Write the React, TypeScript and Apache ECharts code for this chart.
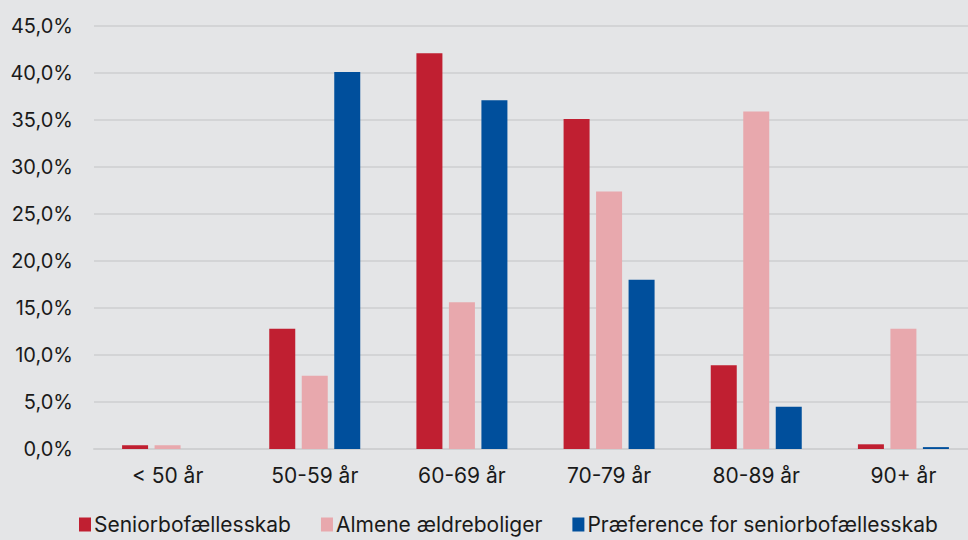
import React, { useEffect, useRef } from "react";
import * as echarts from "echarts";

const categories = ["< 50 år", "50-59 år", "60-69 år", "70-79 år", "80-89 år", "90+ år"];
const seniorbo = [0.4, 12.8, 42.1, 35.1, 8.9, 0.5];
const almene = [0.4, 7.8, 15.6, 27.4, 35.9, 12.8];
const praeference = [0, 40.1, 37.1, 18.0, 4.5, 0.2];

const FONT = "Inter, 'Noto Sans', sans-serif";

export default function App() {
  const ref = useRef<HTMLDivElement>(null);
  useEffect(() => {
    const chart = echarts.init(ref.current!, null, { renderer: "svg" });
    chart.setOption({
      animation: false,
      backgroundColor: "#e4e5e7",
      textStyle: { fontFamily: FONT },
      grid: { left: 94, right: 0, top: 26, bottom: 91 },
      legend: {
        bottom: 0,
        left: 74,
        itemWidth: 12,
        itemHeight: 14,
        itemGap: 30,
        icon: "rect",
        textStyle: { fontSize: 21, color: "#1a1a1a", fontFamily: FONT, padding: [0, 0, 0, -2] },
        data: ["Seniorbofællesskab", "Almene ældreboliger", "Præference for seniorbofællesskab"],
      },
      xAxis: {
        type: "category",
        data: categories,
        axisTick: { show: false },
        axisLine: { lineStyle: { color: "#cfd0d2", width: 2 } },
        axisLabel: { fontSize: 21, color: "#1a1a1a", margin: 16, fontFamily: FONT },
      },
      yAxis: {
        type: "value",
        min: 0,
        max: 45,
        interval: 5,
        axisLabel: {
          fontSize: 20,
          color: "#1a1a1a",
          margin: 21,
          fontFamily: FONT,
          formatter: (v: number) => v.toFixed(1).replace(".", ",") + "%",
        },
        splitLine: { lineStyle: { color: "#d3d4d6", width: 2 } },
      },
      series: [
        { name: "Seniorbofællesskab", type: "bar", data: seniorbo, barWidth: 26, barGap: "25%", itemStyle: { color: "#c01f31" } },
        { name: "Almene ældreboliger", type: "bar", data: almene, barWidth: 26, barGap: "25%", itemStyle: { color: "#e8a8ad" } },
        { name: "Præference for seniorbofællesskab", type: "bar", data: praeference, barWidth: 26, barGap: "25%", itemStyle: { color: "#004f9c" } },
      ],
    });
    return () => chart.dispose();
  }, []);
  return (
    <div style={{ width: 968, height: 540, position: "absolute", left: 0, top: 0, overflow: "hidden", background: "#e4e5e7" }}>
      <div ref={ref} style={{ width: 977, height: 540 }} />
    </div>
  );
}
